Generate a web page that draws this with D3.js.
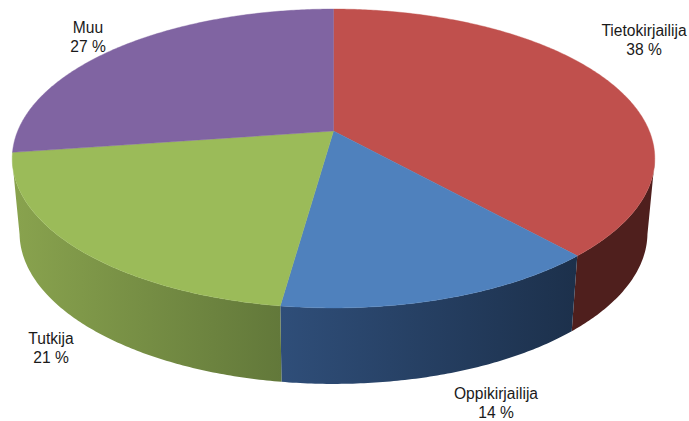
<!DOCTYPE html>
<html>
<head>
<meta charset="utf-8">
<script src="https://cdn.jsdelivr.net/npm/d3@7"></script>
<style>
  html, body { margin: 0; padding: 0; background: #fff; }
  svg { display: block; }
  text { font-family: "Liberation Sans", Arial, sans-serif; font-size: 15.6px; fill: #1a1a1a; text-anchor: middle; }
</style>
</head>
<body>
<div id="chart"></div>
<script>
// slice shares, they round to the printed labels
const categories = ['Tietokirjailija', 'Oppikirjailija', 'Tutkija', 'Muu'];
const shares = [38.4, 13.8, 20.5, 27.3];

const topColors = ['#C0504D', '#4F81BD', '#9BBB59', '#8064A2'];
const wallLeftColors = ['#4f1f1d', '#2f4e79', '#89a34e', '#5e4a78'];
const wallRightColors = ['#4f1f1d', '#1c304b', '#62783a', '#5e4a78'];

const width = 689;
const height = 421;
const cx = 333.5;
const perspective = 0.184;
// the top and bottom faces are the same circle seen through a perspective
const topFace = { rx: 315.8, ry: 144.4, cy: 131 };
const bottomFace = { rx: 308.6, ry: 146, cy: 205 };

// angle is clockwise from 12 o'clock
function project(face, angle) {
  const u = Math.sin(angle);
  const v = -Math.cos(angle);
  const w = 1 - perspective * v;
  return [cx + face.rx * u / w, face.cy + face.ry * v / w];
}

function sampleAngles(a0, a1) {
  const n = Math.ceil((a1 - a0) / 0.01);
  return d3.range(n + 1).map(i => a0 + (a1 - a0) * i / n);
}

// the rim only faces the viewer between the two silhouette points
function facesViewer(angle) {
  return -Math.cos(angle) >= perspective;
}

const svg = d3.select('#chart').append('svg')
  .attr('width', width)
  .attr('height', height);
const defs = svg.append('defs');

const pie = d3.pie().sort(null).value(d => d);
const arcs = pie(shares);
const line = d3.line();

// outer walls
const walls = svg.append('g');
arcs.forEach(function (d, i) {
  const angles = sampleAngles(d.startAngle, d.endAngle).filter(facesViewer);
  if (angles.length < 2) return;
  const tops = angles.map(a => project(topFace, a));
  const bottoms = angles.map(a => project(bottomFace, a)).reverse();
  const outline = tops.concat(bottoms);
  const xs = d3.extent(outline, p => p[0]);
  const grad = defs.append('linearGradient')
    .attr('id', 'wall' + i)
    .attr('gradientUnits', 'userSpaceOnUse')
    .attr('x1', xs[0]).attr('x2', xs[1])
    .attr('y1', 0).attr('y2', 0);
  grad.append('stop').attr('offset', 0).attr('stop-color', wallLeftColors[i]);
  grad.append('stop').attr('offset', 1).attr('stop-color', wallRightColors[i]);
  walls.append('path')
    .attr('d', line(outline) + 'Z')
    .attr('fill', 'url(#wall' + i + ')');
});

// top face
svg.append('g').selectAll('path')
  .data(arcs)
  .enter().append('path')
  .attr('d', function (d) {
    const center = [cx, topFace.cy];
    const rim = sampleAngles(d.startAngle, d.endAngle).map(a => project(topFace, a));
    return line([center].concat(rim)) + 'Z';
  })
  .attr('fill', (d, i) => topColors[i])
  .attr('stroke', (d, i) => topColors[i])
  .attr('stroke-width', 0.4);

// labels were placed by hand next to the slices in the original
const labelSpots = [[644, 36], [496, 399], [51, 344], [88, 33]];
const labels = svg.append('g').selectAll('text')
  .data(arcs)
  .enter().append('text')
  .attr('x', (d, i) => labelSpots[i][0])
  .attr('y', (d, i) => labelSpots[i][1]);
labels.append('tspan')
  .text((d, i) => categories[i]);
labels.append('tspan')
  .attr('x', (d, i) => labelSpots[i][0])
  .attr('dy', 18.5)
  .text(d => Math.round(d.value) + ' %');
</script>
</body>
</html>
